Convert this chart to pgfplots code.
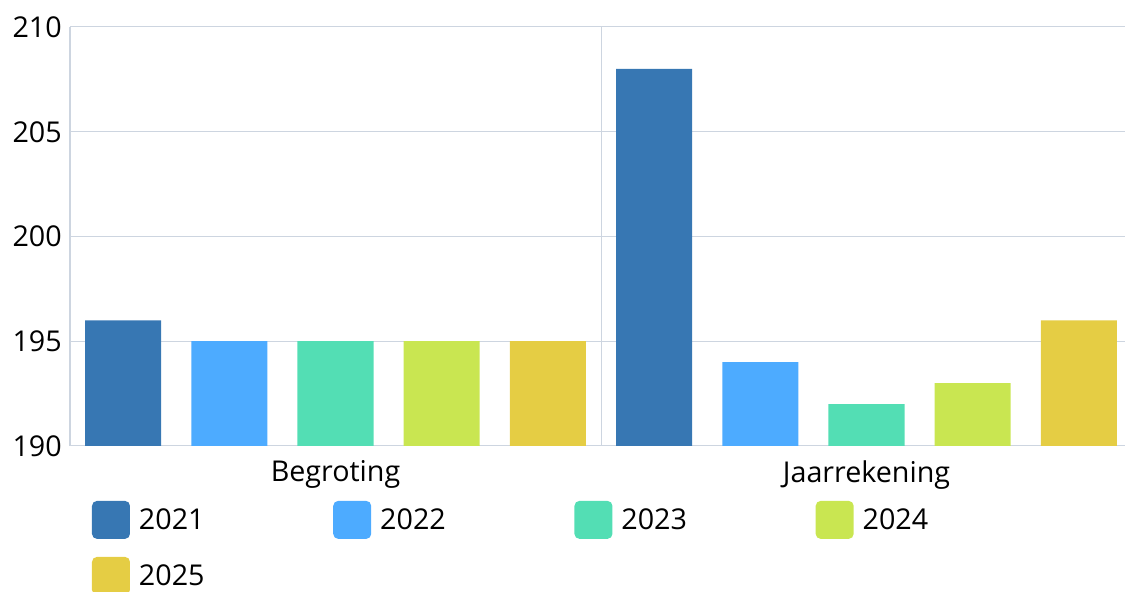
\documentclass[border=0pt]{standalone}
\usepackage{pgfplots}
\pgfplotsset{compat=1.18}
\usepackage{fontspec}
\setmainfont{Open Sans}
\definecolor{c21}{HTML}{3777B3}
\definecolor{c22}{HTML}{4DABFF}
\definecolor{c23}{HTML}{53DEB4}
\definecolor{c24}{HTML}{C9E651}
\definecolor{c25}{HTML}{E5CD44}
\definecolor{gridc}{HTML}{CDD5E0}
\begin{document}
\begin{tikzpicture}
\begin{axis}[
  scale only axis, width=796.5pt, height=314.25pt,
  xmin=0, xmax=10, ymin=190, ymax=210,
  ytick={190,195,200,205,210},
  xtick={2.5,7.5}, xticklabels={Begroting,Jaarrekening},
  extra x ticks={5}, extra x tick labels={},
  extra x tick style={grid=major},
  ymajorgrids, grid style={gridc, line width=0.75pt},
  axis x line*=bottom, axis y line*=left,
  axis line style={gridc, line width=0.75pt},
  major tick length=0pt,
  tick label style={font=\fontsize{21.5}{25}\selectfont},
  /pgf/number format/assume math mode=true,
  yticklabel style={inner sep=0pt, xshift=-6pt},
  xticklabel style={inner sep=0pt, yshift=-10.5pt},
  bar width=0.716,
  legend columns=4,
  legend cell align=left,
  legend style={at={(0.0207,-0.131)}, anchor=north west, draw=none, fill=none,
    inner sep=0pt, outer sep=0pt, font=\fontsize{21.5}{25}\selectfont,
    nodes={inner sep=0pt},
    /tikz/every odd column/.style={column sep=6.75pt},
    /tikz/every even column/.style={column sep=96.5pt},
    row sep=13.5pt},
  legend image code/.code={\fill[#1, draw=none, rounded corners=3.75pt] (0pt,-14.25pt) rectangle (28.5pt,14.25pt);},
]
\addplot[ybar, bar shift=0pt, fill=c21, draw=none] coordinates {(0.5,196) (5.5,208)};
\addlegendentry{2021}
\addplot[ybar, bar shift=0pt, fill=c22, draw=none] coordinates {(1.5,195) (6.5,194)};
\addlegendentry{2022}
\addplot[ybar, bar shift=0pt, fill=c23, draw=none] coordinates {(2.5,195) (7.5,192)};
\addlegendentry{2023}
\addplot[ybar, bar shift=0pt, fill=c24, draw=none] coordinates {(3.5,195) (8.5,193)};
\addlegendentry{2024}
\addplot[ybar, bar shift=0pt, fill=c25, draw=none] coordinates {(4.5,195) (9.5,196)};
\addlegendentry{2025}
\coordinate (bl) at (rel axis cs:0,0);
\coordinate (tr) at (rel axis cs:1,1);
\end{axis}
\pgfresetboundingbox
\path[use as bounding box] ([xshift=-52.5pt,yshift=-109.5pt]bl) rectangle ([xshift=-5.25pt,yshift=20.25pt]tr);
\end{tikzpicture}
\end{document}
